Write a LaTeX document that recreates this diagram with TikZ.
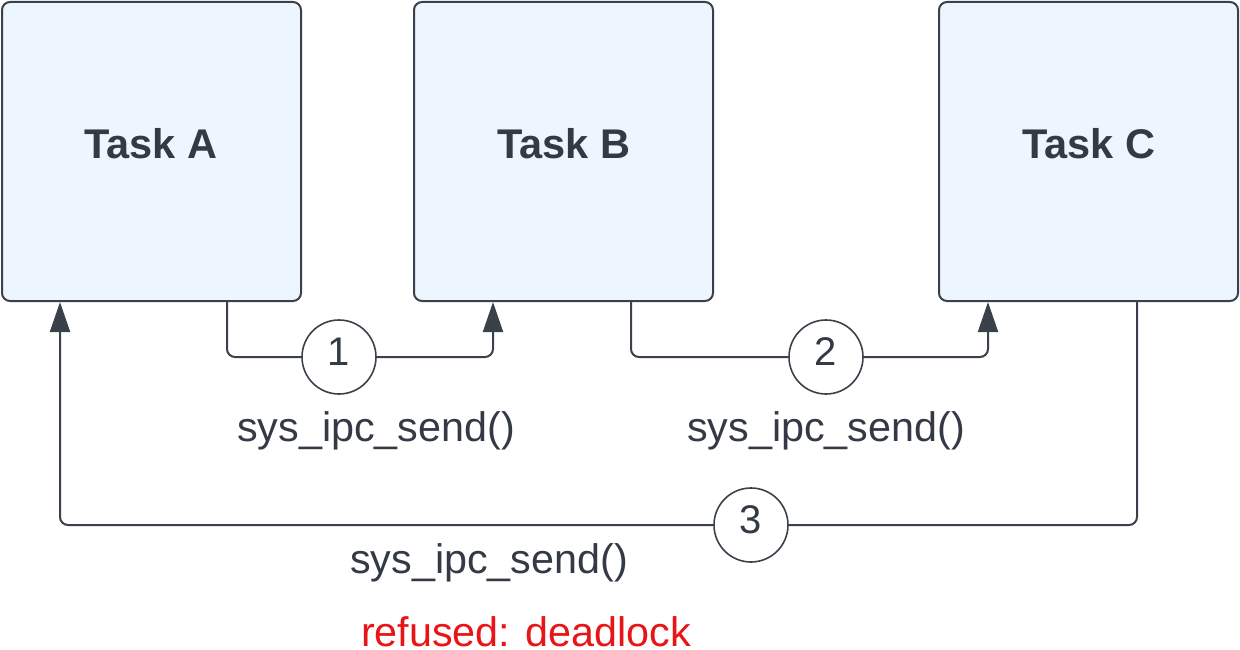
\documentclass[tikz,border=0pt]{standalone}
\usepackage{fontspec}
\setmainfont{Liberation Sans}
\usetikzlibrary{arrows.meta}
\definecolor{boxfill}{HTML}{EDF5FF}
\definecolor{ink}{HTML}{3A414B}
\definecolor{txt}{HTML}{333A45}
\definecolor{refred}{HTML}{E81416}
\begin{document}
\begin{tikzpicture}[x=1pt,y=-1pt,
  task/.style={draw=ink,fill=boxfill,line width=2pt,rounded corners=8pt,
    minimum width=299pt,minimum height=299pt,inner sep=0pt},
  tasklabel/.style={anchor=base,text=txt,font=\fontsize{41.5}{48}\selectfont\bfseries},
  num/.style={circle,draw=ink,fill=white,line width=1.6pt,minimum size=74pt,inner sep=0pt,
    text=txt,text depth=10pt,font=\fontsize{40}{48}\selectfont},
  conn/.style={draw=ink,line width=2pt,rounded corners=8pt},
  tip/.style={-{Triangle[width=20pt,length=30pt]}},
  lbl/.style={anchor=base,text=txt,font=\fontsize{41.3}{48}\selectfont}]
\useasboundingbox (0,0) rectangle (1240,650);
\node[task] (A) at (151.5,151.5) {};
\node[task] (B) at (563.5,151.5) {};
\node[task] (C) at (1088.5,151.5) {};
\node[tasklabel] (tA) at (151,159) {Task A};
\node[tasklabel] (tB) at (564,159) {Task B};
\node[tasklabel] (tC) at (1089,159) {Task C};
\node[num] (c1) at (339,357) {1};
\node[num] (c2) at (826,357) {2};
\node[num] (c3) at (751,525) {3};
\draw[conn] (A.south -| 227,0) |- (c1.west);
\draw[conn,tip] (c1.east) -| (B.south -| 493,0);
\draw[conn] (B.south -| 631,0) |- (c2.west);
\draw[conn,tip] (c2.east) -| (C.south -| 988,0);
\draw[conn] (C.south -| 1137,0) |- (c3.east);
\draw[conn,tip] (c3.west) -| (A.south -| 60,0);
\node[lbl] (l1) at (376,441) {sys\_ipc\_send()};
\node[lbl] (l2) at (826,441) {sys\_ipc\_send()};
\node[lbl] (l3) at (489,573) {sys\_ipc\_send()};
\node[lbl,text=refred] (l4) at (526,646) {refused: deadlock};
\end{tikzpicture}
\end{document}
